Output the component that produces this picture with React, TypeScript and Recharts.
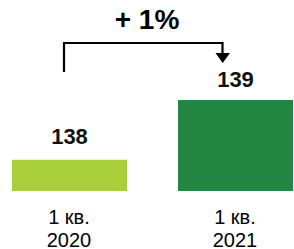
import React from "react";
import { BarChart, Bar, XAxis, YAxis, Cell, LabelList } from "recharts";

const quarters = ["1 кв.", "1 кв."];
const years = ["2020", "2021"];
const values = [138, 139];
const COLORS = ["#A8CE3A", "#238542"];
const growthLabel = "+ 1%";

const data = years.map((year, i) => ({
  name: year,
  quarter: quarters[i],
  value: values[i],
}));

const FONT = "'Liberation Sans', Arial, sans-serif";

const YearTick = (props: any) => {
  const { x, y, payload, index } = props;
  return (
    <text x={x} y={y} textAnchor="middle" fill="#000" fontSize={20} fontFamily={FONT}>
      <tspan x={x} dy={24.5}>{quarters[index]}</tspan>
      <tspan x={x} dy={23}>{payload.value}</tspan>
    </text>
  );
};

const ValueLabel = (props: any) => {
  const { x, y, width, value, index } = props;
  const offset = index === 0 ? 16 : 13;
  return (
    <text
      x={x + width / 2}
      y={y - offset}
      textAnchor="middle"
      fill="#111"
      fontSize={22}
      fontWeight="bold"
      fontFamily={FONT}
    >
      {value}
    </text>
  );
};

export default function App() {
  return (
    <div
      style={{
        position: "absolute",
        left: 0,
        top: 0,
        width: 294,
        height: 249,
        overflow: "hidden",
        background: "#fff",
      }}
    >
      <div style={{ position: "absolute", left: -14, top: 0 }}>
        <BarChart
          width={332}
          height={249}
          data={data}
          margin={{ top: 40, right: 0, left: 0, bottom: 0 }}
        >
          <XAxis
            dataKey="name"
            axisLine={false}
            tickLine={false}
            height={58}
            tick={<YearTick />}
            interval={0}
          />
          <YAxis hide domain={[137.48, 140]} />
          <Bar dataKey="value" barSize={115} isAnimationActive={false}>
            {data.map((entry, index) => (
              <Cell key={`cell-${index}`} fill={COLORS[index % COLORS.length]} />
            ))}
            <LabelList dataKey="value" content={<ValueLabel />} />
          </Bar>
        </BarChart>
      </div>
      <svg
        width={294}
        height={249}
        style={{ position: "absolute", left: 0, top: 0, pointerEvents: "none" }}
      >
        <text
          x={147}
          y={29}
          textAnchor="middle"
          fill="#000"
          fontSize={28}
          fontWeight="bold"
          fontFamily={FONT}
        >
          {growthLabel}
        </text>
        <path d="M64 72 V43 H222.5 V54" fill="none" stroke="#000" strokeWidth={2.2} />
        <polygon points="215.5,53 230,53 222.7,63" fill="#000" />
      </svg>
    </div>
  );
}
